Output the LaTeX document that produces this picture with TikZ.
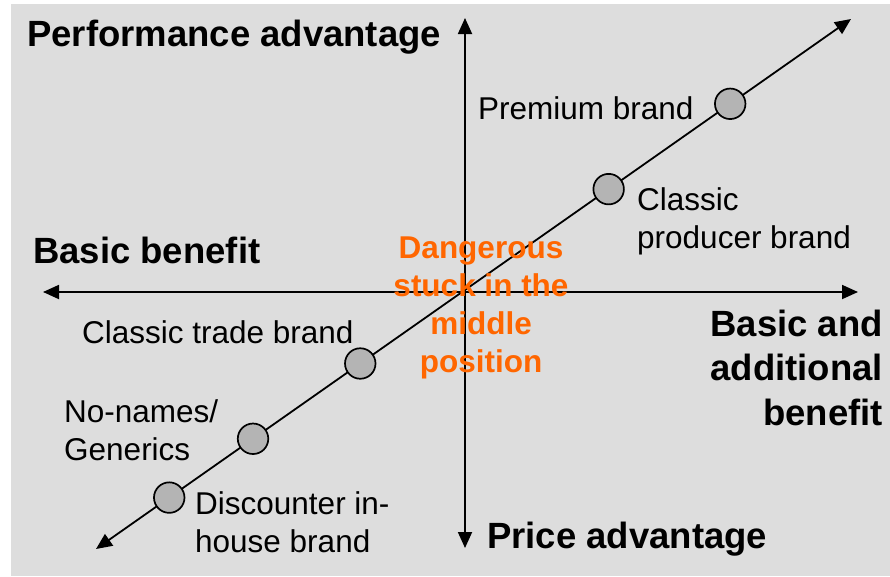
\documentclass[tikz,border=0pt]{standalone}
\usepackage{fontspec}
\setmainfont{Liberation Sans}
\usepackage{xcolor}
\usetikzlibrary{arrows.meta}
\definecolor{bggray}{HTML}{DDDDDD}
\definecolor{dotgray}{HTML}{B4B4B4}
\definecolor{warnorange}{HTML}{FF6600}
\tikzset{
    axis/.style={line width=1.8pt,{Triangle[length=16pt,width=14pt]}-{Triangle[length=16pt,width=14pt]}},
    brand/.style={circle,draw,line width=1.7pt,fill=dotgray,minimum size=30.5pt,inner sep=0pt},
    lbl/.style={font=\fontsize{31.5}{38}\selectfont,inner sep=0pt,align=left},
    head/.style={font=\fontsize{36.5}{44.5}\selectfont\bfseries,inner sep=0pt}
}

\begin{document}
\begin{tikzpicture}[x=1pt,y=-1pt]
            \useasboundingbox (0,0) rectangle (890,576);
            \fill[bggray] (11,4) rectangle (890,576);

            \coordinate (left) at (43,292);
            \coordinate (right) at (858,292);
            \coordinate (top) at (465,18);
            \coordinate (bottom) at (465,548);
            \coordinate (low) at (96,549);
            \coordinate (high) at (851,19);

            \draw[axis] (left)--(right);
            \draw[axis] (bottom)--(top);
            \draw[axis] (low)--(high)
                node[brand,pos=0.097] (discount) {}
                node[brand,pos=0.208] (noname) {}
                node[brand,pos=0.350] (trade) {}
                node[brand,pos=0.679] (producer) {}
                node[brand,pos=0.840] (premium) {};

            % multi-line labels: base is the last line
            \node[head,anchor=base west] (perf) at (27,46) {Performance advantage};
            \node[head,anchor=base west] (basic) at (33,263) {Basic benefit};
            \node[head,anchor=base west] (price) at (487,548) {Price advantage};
            \node[head,anchor=base east,align=right] (addit) at (883,425) {Basic and\\additional\\benefit};

            \node[lbl,anchor=base west] (premiumlbl) at (478,119) {Premium brand};
            \node[lbl,anchor=base west] (producerlbl) at (637,248) {Classic\\producer brand};
            \node[lbl,anchor=base west] (tradelbl) at (82,343) {Classic trade brand};
            \node[lbl,anchor=base west] (nonamelbl) at (64,460) {No-names/\\Generics};
            \node[lbl,anchor=base west] (discountlbl) at (195,552) {Discounter in-\\house brand};

            \node[lbl,align=center,anchor=base,text=warnorange,font=\fontsize{31.5}{38}\selectfont\bfseries] (danger) at (481,372) {Dangerous\\stuck in the\\middle\\position};
        \end{tikzpicture}
\end{document}
